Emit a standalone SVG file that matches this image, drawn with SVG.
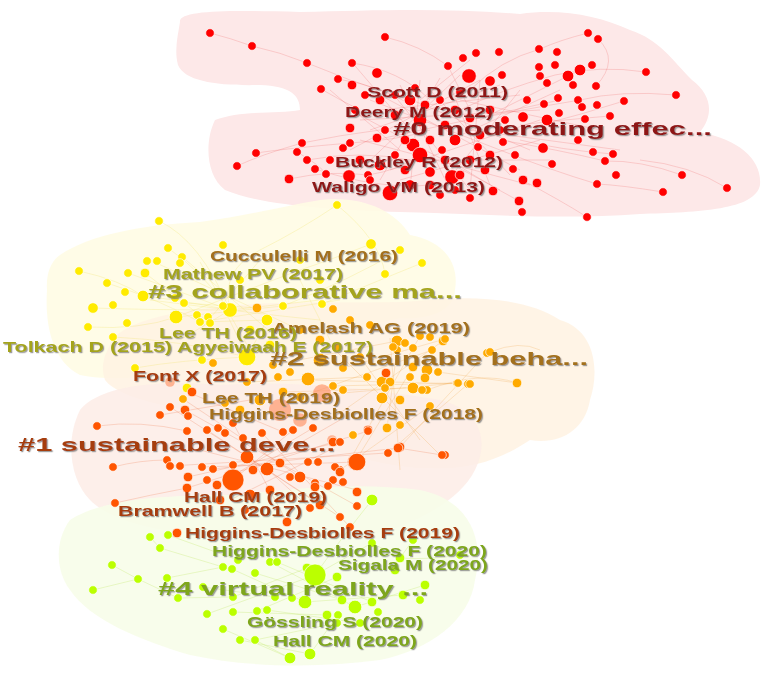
<svg xmlns="http://www.w3.org/2000/svg" width="762" height="679" viewBox="0 0 762 679">
<defs>
<style>
.h0{fill:#fde8e8}.h3{fill:#fffce4;opacity:.9}.h2{fill:#fff2e2;opacity:.85}.h1{fill:#fdece6;opacity:.85}.h4{fill:#f7fde9;opacity:.9}
.e0{fill:none;stroke:#f07070;stroke-width:.6;stroke-opacity:.45}
.e3{fill:none;stroke:#f0e060;stroke-width:.6;stroke-opacity:.45}
.e2{fill:none;stroke:#f0a040;stroke-width:.6;stroke-opacity:.4}
.e1{fill:none;stroke:#f07040;stroke-width:.6;stroke-opacity:.4}
.e4{fill:none;stroke:#c0e860;stroke-width:.6;stroke-opacity:.5}
.n0 circle{fill:#ff0000;stroke:#fff;stroke-width:.7}
.n3 circle{fill:#ffeb00;stroke:#fff;stroke-width:.7}
.n2 circle{fill:#ffaa00;stroke:#fff;stroke-width:.7}
.ns circle{fill:#ff8a5a;opacity:.6}
.n1 circle{fill:#ff5500;stroke:#fff;stroke-width:.7}
.n4 circle{fill:#bbff00;stroke:#fff;stroke-width:.7}
text{font-family:"Liberation Sans",Arial,sans-serif;font-weight:bold;font-size:14px;filter:url(#sh)}
.big{font-size:19px}
.t0{fill:#8e1515}.t3{fill:#a4a41a}.t2{fill:#a3701a}.t1{fill:#a63c0c}.t4{fill:#7ea61a}
</style>
<filter id="sh" x="-10%" y="-30%" width="120%" height="160%">
<feDropShadow dx="1.2" dy="1.2" stdDeviation="0.7" flood-color="#777" flood-opacity="0.7"/>
</filter>
</defs>
<rect width="762" height="679" fill="#fff"/>
<g id="hulls">
<path class="h0" d="M180,22 C178,10 230,10 300,12 C380,10 450,8 520,14 C560,8 600,16 630,30 C660,40 672,60 692,80 C712,95 714,115 700,132 C740,140 762,160 760,185 C755,210 700,212 640,214 C560,220 480,214 400,212 C330,210 260,205 225,190 C205,175 205,140 215,120 C240,110 280,114 300,110 C300,95 290,86 260,85 C220,86 185,82 178,65 C174,50 178,35 180,22 Z"/>
<path class="h3" d="M60,255 C90,235 140,225 200,222 C250,215 290,205 320,200 C360,195 395,210 410,235 C440,240 460,260 455,290 C455,310 430,320 400,318 C350,330 300,340 250,350 C200,370 130,385 80,375 C50,360 45,320 47,290 C46,275 50,262 60,255 Z"/>
<path class="h2" d="M110,345 C120,320 180,310 240,305 C300,300 380,305 430,300 C480,295 530,300 560,320 C595,330 600,370 590,400 C585,430 560,445 530,440 C500,460 470,470 430,468 C380,470 300,440 250,420 C180,410 120,400 105,380 C100,365 105,355 110,345 Z"/>
<path class="h1" d="M80,410 C100,385 160,380 220,385 C300,380 380,390 440,400 C480,410 490,440 475,470 C460,500 420,520 390,530 C330,545 260,545 200,535 C150,530 110,520 90,500 C70,480 65,440 80,410 Z"/>
<path class="h4" d="M70,520 C100,500 160,495 230,495 C300,488 360,482 420,490 C470,500 485,540 475,580 C470,620 430,650 380,660 C320,668 250,668 190,655 C140,640 90,620 70,590 C55,570 55,540 70,520 Z"/>
</g>
<g id="connectors">
<path class="e0" d="M210,33 Q230,38 252,46 Q280,52 307,63 Q330,72 350,80 Q380,90 410,100 M385,37 Q420,45 448,66 Q460,90 470,110 M352,63 Q400,70 430,100 M588,33 Q560,40 540,49 Q500,60 470,90 M598,39 Q620,60 596,86 M646,72 Q600,65 555,75 Q500,90 460,110 M676,95 Q620,90 580,100 Q520,110 470,120 M682,175 Q640,160 605,161 Q560,150 500,140 M727,188 Q690,165 640,160 M663,192 Q620,185 597,184 Q550,170 500,150 M587,217 Q560,200 522,180 M519,201 Q480,180 450,160 M237,166 Q260,155 302,143 Q340,135 380,130 M256,153 Q290,148 350,143 Q400,140 430,130 M289,179 Q330,170 368,175 Q400,170 420,155 M297,152 Q320,165 326,174 M321,89 Q340,100 360,110 M338,79 Q380,85 420,110 M613,154 Q560,150 520,140 M624,101 Q580,115 540,125 M610,116 Q560,120 520,125 M370,100 L500,150 M380,95 L520,170 M390,90 L470,190 M360,120 L540,110 M375,140 L560,100 M400,85 L450,190 M420,80 L410,190 M440,78 L380,180 M460,75 L360,170 M480,80 L350,150 M500,85 L370,130 M520,95 L380,110 M540,120 L390,170 M530,150 L400,95 M510,175 L430,90 M490,185 L450,85 M470,190 L480,80 M440,190 L520,90 M400,180 L540,140 M380,160 L550,160 M360,140 L530,185 M350,110 L500,190 M460,100 L600,130 M470,130 L620,150 M480,120 L580,70 M450,140 L560,90 M420,100 L470,60 M410,130 L350,60 M400,150 L330,90 M307,160 Q360,150 410,160 M315,169 Q380,190 430,185"/>
<path class="e3" d="M337,205 Q300,230 260,250 Q220,270 230,310 M337,205 Q380,240 385,274 M159,221 Q200,240 230,310 M79,271 Q120,280 143,296 Q180,300 230,310 M93,308 Q150,310 230,310 Q270,315 320,320 M88,327 Q140,330 176,317 M168,248 Q200,270 230,310 M422,263 Q380,280 322,304 M400,250 Q350,280 283,306 M107,283 Q160,300 200,322 M113,337 Q180,340 247,357 M135,368 Q180,360 247,357 M150,260 L300,330 M180,255 L280,340 M200,262 L250,350 M230,310 L150,300 M230,310 L320,300 M230,310 L180,340 M176,317 L283,306 M200,322 L267,320 M260,260 L200,330 M300,270 L176,317 M340,300 L200,322 M128,273 L230,310 M145,273 L210,323 M184,303 L257,308 M223,306 L247,357 M267,320 L247,357 M300,280 L330,340 M371,244 Q330,260 300,270"/>
<path class="e2" d="M310,380 L470,384 M330,345 L440,455 M360,357 L420,440 M390,338 L400,470 M420,336 L350,460 M443,341 L330,420 M457,383 L320,395 M413,367 L355,462 M397,350 L387,428 M430,406 L340,470 M468,384 L388,453 M487,353 L400,447 M517,383 L438,372 M517,383 Q480,370 427,390 M283,392 L413,388 M273,365 L397,341 M247,382 L367,377 M300,397 L432,350 M333,386 L457,383 M343,368 L445,339 M490,352 Q520,340 540,350"/>
<path class="e1" d="M170,407 L340,517 M185,410 L357,506 M207,430 L320,505 M233,423 L287,522 M262,433 L350,527 M293,430 L233,480 M313,428 L217,485 M340,442 L188,477 M368,431 L187,488 M387,453 L170,466 M398,448 L213,469 M357,462 L202,467 M300,477 L183,399 M283,432 L190,393 M253,470 L340,420 M230,500 L330,450 M267,469 L310,508 M200,450 L357,490 M97,426 Q140,420 187,431 M113,467 Q140,460 167,460 M115,503 Q150,495 187,488 M442,455 L398,448 M160,415 L250,400"/>
<path class="e4" d="M150,537 L160,548 L223,567 M168,535 L238,560 M112,565 L138,579 L178,598 M93,590 L138,579 M372,500 Q340,540 315,575 M413,540 L400,558 L372,543 L315,575 M232,569 L305,602 M255,573 L342,600 M270,562 L355,607 M277,562 L372,602 M307,568 L233,597 M315,575 L207,614 M337,577 L257,611 M203,587 L275,597 M233,612 L327,615 M267,610 L360,623 M223,629 L290,658 M240,640 L310,654 M255,640 L337,623 M425,585 L355,607 M403,595 L305,602 M178,598 L233,597 M167,578 L223,567 M290,658 L255,640 M310,654 L338,615 M460,555 Q430,560 400,558"/>
</g>
<g id="cluster0" class="n0">
<circle cx="210" cy="33" r="4.3"/><circle cx="252" cy="46" r="4.3"/><circle cx="307" cy="63" r="4.3"/><circle cx="352" cy="63" r="4.3"/><circle cx="385" cy="37" r="4.3"/><circle cx="377" cy="73" r="5.3"/><circle cx="338" cy="79" r="4.3"/><circle cx="321" cy="89" r="4.3"/><circle cx="352" cy="85" r="4.8"/><circle cx="448" cy="66" r="4.3"/><circle cx="463" cy="58" r="4.3"/><circle cx="469" cy="76" r="7.3"/><circle cx="476" cy="53" r="4.3"/><circle cx="499" cy="52" r="4.3"/><circle cx="490" cy="81" r="5.3"/><circle cx="502" cy="75" r="4.3"/><circle cx="539" cy="49" r="4.3"/><circle cx="557" cy="52" r="4.3"/><circle cx="539" cy="67" r="4.3"/><circle cx="555" cy="65" r="4.3"/><circle cx="580" cy="70" r="5.8"/><circle cx="592" cy="65" r="4.3"/><circle cx="568" cy="76" r="5.8"/><circle cx="540" cy="76" r="4.3"/><circle cx="547" cy="83" r="4.3"/><circle cx="573" cy="85" r="4.3"/><circle cx="596" cy="86" r="4.3"/><circle cx="588" cy="33" r="4.3"/><circle cx="598" cy="39" r="4.3"/><circle cx="646" cy="72" r="4.3"/><circle cx="676" cy="95" r="4.3"/><circle cx="624" cy="101" r="4.3"/><circle cx="578" cy="100" r="4.3"/><circle cx="558" cy="98" r="4.3"/><circle cx="544" cy="104" r="4.3"/><circle cx="582" cy="107" r="4.3"/><circle cx="597" cy="105" r="4.3"/><circle cx="610" cy="116" r="4.3"/><circle cx="559" cy="113" r="4.3"/><circle cx="523" cy="117" r="5.3"/><circle cx="547" cy="120" r="5.8"/><circle cx="585" cy="119" r="4.3"/><circle cx="578" cy="140" r="4.3"/><circle cx="543" cy="148" r="5.3"/><circle cx="593" cy="152" r="4.3"/><circle cx="613" cy="154" r="4.3"/><circle cx="605" cy="161" r="4.3"/><circle cx="552" cy="164" r="4.3"/><circle cx="513" cy="169" r="4.3"/><circle cx="616" cy="175" r="4.3"/><circle cx="682" cy="175" r="4.3"/><circle cx="523" cy="180" r="4.8"/><circle cx="537" cy="183" r="4.8"/><circle cx="597" cy="184" r="4.3"/><circle cx="663" cy="192" r="4.3"/><circle cx="727" cy="188" r="4.3"/><circle cx="519" cy="201" r="4.8"/><circle cx="522" cy="212" r="4.3"/><circle cx="587" cy="217" r="4.3"/><circle cx="350" cy="128" r="4.8"/><circle cx="350" cy="143" r="4.3"/><circle cx="302" cy="143" r="4.3"/><circle cx="256" cy="153" r="4.3"/><circle cx="297" cy="152" r="4.3"/><circle cx="237" cy="166" r="4.3"/><circle cx="307" cy="160" r="4.3"/><circle cx="315" cy="169" r="4.3"/><circle cx="326" cy="174" r="4.3"/><circle cx="289" cy="179" r="4.8"/><circle cx="343" cy="148" r="4.3"/><circle cx="368" cy="175" r="4.3"/><circle cx="349" cy="176" r="6.3"/><circle cx="377" cy="138" r="4.8"/><circle cx="413" cy="145" r="6.8"/><circle cx="442" cy="150" r="4.3"/><circle cx="452" cy="177" r="7.3"/><circle cx="478" cy="147" r="4.3"/><circle cx="503" cy="142" r="4.3"/><circle cx="493" cy="191" r="4.8"/><circle cx="390" cy="193" r="7.8"/><circle cx="410" cy="185" r="5.3"/>
<circle cx="380" cy="100" r="4.8"/><circle cx="395" cy="95" r="4.3"/><circle cx="410" cy="100" r="5.8"/><circle cx="425" cy="105" r="4.8"/><circle cx="440" cy="100" r="4.3"/><circle cx="455" cy="110" r="4.8"/><circle cx="395" cy="115" r="4.8"/><circle cx="420" cy="120" r="6.8"/><circle cx="445" cy="125" r="4.8"/><circle cx="470" cy="118" r="4.8"/><circle cx="490" cy="110" r="4.8"/><circle cx="505" cy="120" r="4.3"/><circle cx="385" cy="130" r="4.3"/><circle cx="405" cy="140" r="4.8"/><circle cx="430" cy="140" r="4.8"/><circle cx="455" cy="140" r="5.8"/><circle cx="480" cy="135" r="4.8"/><circle cx="500" cy="130" r="4.3"/><circle cx="395" cy="155" r="4.3"/><circle cx="420" cy="155" r="7.8"/><circle cx="445" cy="160" r="4.8"/><circle cx="470" cy="160" r="4.8"/><circle cx="490" cy="155" r="4.8"/><circle cx="380" cy="165" r="5.8"/><circle cx="405" cy="170" r="4.8"/><circle cx="430" cy="172" r="5.3"/><circle cx="460" cy="175" r="4.8"/><circle cx="485" cy="170" r="4.8"/><circle cx="370" cy="180" r="4.3"/><circle cx="430" cy="185" r="4.8"/><circle cx="455" cy="190" r="4.3"/><circle cx="365" cy="95" r="4.3"/><circle cx="355" cy="110" r="4.3"/><circle cx="460" cy="92" r="4.3"/><circle cx="360" cy="160" r="4.8"/><circle cx="330" cy="160" r="4.3"/><circle cx="440" cy="195" r="4.3"/><circle cx="470" cy="198" r="4.3"/><circle cx="515" cy="155" r="4.3"/><circle cx="527" cy="100" r="4.3"/><circle cx="415" cy="88" r="4.3"/>
</g>
<g id="cluster3" class="n3">
<circle cx="337" cy="205" r="4.3"/><circle cx="159" cy="221" r="4.3"/><circle cx="168" cy="248" r="4.3"/><circle cx="223" cy="245" r="4.3"/><circle cx="371" cy="244" r="5.3"/><circle cx="400" cy="250" r="4.3"/><circle cx="422" cy="263" r="4.3"/><circle cx="385" cy="274" r="4.3"/><circle cx="147" cy="261" r="4.3"/><circle cx="157" cy="261" r="4.3"/><circle cx="182" cy="257" r="4.3"/><circle cx="180" cy="263" r="4.3"/><circle cx="79" cy="271" r="4.3"/><circle cx="128" cy="273" r="4.3"/><circle cx="145" cy="273" r="4.8"/><circle cx="107" cy="283" r="4.3"/><circle cx="125" cy="292" r="4.3"/><circle cx="143" cy="296" r="5.8"/><circle cx="93" cy="308" r="5.3"/><circle cx="113" cy="305" r="4.3"/><circle cx="175" cy="298" r="4.3"/><circle cx="184" cy="303" r="4.3"/><circle cx="230" cy="310" r="7.3"/><circle cx="176" cy="317" r="6.8"/><circle cx="197" cy="315" r="4.3"/><circle cx="208" cy="317" r="4.3"/><circle cx="200" cy="322" r="4.3"/><circle cx="210" cy="323" r="4.3"/><circle cx="267" cy="320" r="5.8"/><circle cx="283" cy="306" r="4.3"/><circle cx="322" cy="304" r="4.3"/><circle cx="223" cy="306" r="4.3"/><circle cx="88" cy="327" r="4.3"/><circle cx="127" cy="323" r="4.3"/><circle cx="113" cy="337" r="4.3"/><circle cx="247" cy="357" r="8.8"/><circle cx="135" cy="368" r="4.3"/><circle cx="202" cy="360" r="4.3"/><circle cx="187" cy="388" r="4.8"/><circle cx="240" cy="280" r="4.3"/><circle cx="300" cy="260" r="4.3"/><circle cx="320" cy="280" r="4.3"/><circle cx="250" cy="330" r="4.8"/><circle cx="270" cy="345" r="4.8"/>
</g>
<g id="cluster2" class="n2">
<circle cx="257" cy="308" r="4.8"/><circle cx="333" cy="309" r="4.3"/><circle cx="443" cy="341" r="4.8"/><circle cx="397" cy="341" r="5.8"/><circle cx="432" cy="350" r="4.3"/><circle cx="420" cy="336" r="4.3"/><circle cx="397" cy="350" r="4.3"/><circle cx="413" cy="367" r="4.8"/><circle cx="427" cy="370" r="5.8"/><circle cx="438" cy="372" r="4.3"/><circle cx="425" cy="378" r="4.8"/><circle cx="457" cy="383" r="4.3"/><circle cx="468" cy="384" r="4.3"/><circle cx="517" cy="383" r="4.8"/><circle cx="487" cy="353" r="4.3"/><circle cx="367" cy="377" r="4.3"/><circle cx="382" cy="382" r="5.8"/><circle cx="390" cy="382" r="4.8"/><circle cx="413" cy="388" r="5.8"/><circle cx="427" cy="390" r="4.3"/><circle cx="382" cy="398" r="5.8"/><circle cx="400" cy="400" r="4.8"/><circle cx="430" cy="406" r="4.3"/><circle cx="308" cy="379" r="6.8"/><circle cx="333" cy="386" r="4.3"/><circle cx="343" cy="390" r="4.3"/><circle cx="387" cy="428" r="4.8"/><circle cx="400" cy="425" r="4.3"/><circle cx="353" cy="435" r="4.3"/><circle cx="393" cy="347" r="4.3"/><circle cx="405" cy="343" r="4.3"/><circle cx="410" cy="377" r="4.3"/><circle cx="458" cy="383" r="4.3"/><circle cx="470" cy="384" r="4.3"/><circle cx="278" cy="377" r="4.3"/><circle cx="290" cy="372" r="4.3"/><circle cx="337" cy="347" r="4.3"/><circle cx="343" cy="368" r="4.3"/><circle cx="360" cy="357" r="4.3"/><circle cx="413" cy="348" r="4.3"/><circle cx="430" cy="337" r="4.3"/><circle cx="445" cy="339" r="4.3"/><circle cx="490" cy="352" r="4.3"/><circle cx="283" cy="392" r="4.8"/><circle cx="300" cy="397" r="4.8"/><circle cx="385" cy="388" r="4.3"/><circle cx="422" cy="390" r="4.3"/><circle cx="273" cy="365" r="4.3"/><circle cx="247" cy="382" r="4.3"/><circle cx="213" cy="363" r="4.3"/><circle cx="320" cy="360" r="6.8"/><circle cx="350" cy="320" r="4.3"/><circle cx="370" cy="325" r="4.3"/><circle cx="300" cy="330" r="4.3"/><circle cx="320" cy="340" r="4.8"/><circle cx="260" cy="400" r="5.8"/><circle cx="240" cy="410" r="4.8"/><circle cx="225" cy="403" r="4.3"/><circle cx="183" cy="399" r="4.3"/>
</g>
<g id="cluster2s" class="ns">
<circle cx="322" cy="393" r="8.8"/><circle cx="170" cy="382" r="4.8"/><circle cx="332" cy="440" r="4.8"/><circle cx="280" cy="410" r="11"/><circle cx="300" cy="420" r="6.8"/>
</g>
<g id="cluster1" class="n1">
<circle cx="386" cy="373" r="4.8"/><circle cx="368" cy="430" r="4.8"/><circle cx="400" cy="447" r="4.8"/><circle cx="388" cy="453" r="4.3"/><circle cx="445" cy="455" r="4.3"/><circle cx="355" cy="462" r="7.8"/><circle cx="340" cy="470" r="4.3"/><circle cx="333" cy="480" r="4.3"/><circle cx="315" cy="483" r="4.3"/><circle cx="357" cy="492" r="4.8"/><circle cx="192" cy="392" r="4.8"/><circle cx="97" cy="426" r="4.3"/><circle cx="160" cy="415" r="4.3"/><circle cx="170" cy="407" r="4.3"/><circle cx="185" cy="410" r="4.8"/><circle cx="188" cy="416" r="4.3"/><circle cx="187" cy="431" r="4.3"/><circle cx="207" cy="430" r="4.3"/><circle cx="218" cy="428" r="4.3"/><circle cx="225" cy="433" r="4.3"/><circle cx="233" cy="423" r="4.3"/><circle cx="243" cy="438" r="4.3"/><circle cx="262" cy="433" r="4.3"/><circle cx="283" cy="432" r="4.3"/><circle cx="293" cy="430" r="4.3"/><circle cx="313" cy="428" r="4.3"/><circle cx="333" cy="442" r="4.8"/><circle cx="340" cy="442" r="4.3"/><circle cx="368" cy="431" r="4.3"/><circle cx="398" cy="448" r="4.8"/><circle cx="442" cy="455" r="4.3"/><circle cx="167" cy="460" r="4.3"/><circle cx="170" cy="466" r="4.3"/><circle cx="180" cy="466" r="4.3"/><circle cx="113" cy="467" r="4.3"/><circle cx="188" cy="477" r="4.8"/><circle cx="202" cy="467" r="4.3"/><circle cx="213" cy="469" r="4.3"/><circle cx="233" cy="465" r="4.3"/><circle cx="247" cy="457" r="6.8"/><circle cx="253" cy="470" r="4.8"/><circle cx="267" cy="469" r="6.8"/><circle cx="280" cy="463" r="4.8"/><circle cx="290" cy="477" r="4.3"/><circle cx="300" cy="477" r="5.8"/><circle cx="308" cy="462" r="4.3"/><circle cx="318" cy="462" r="4.3"/><circle cx="335" cy="467" r="4.3"/><circle cx="357" cy="462" r="8.8"/><circle cx="340" cy="472" r="4.8"/><circle cx="233" cy="480" r="11"/><circle cx="217" cy="485" r="4.8"/><circle cx="207" cy="480" r="4.3"/><circle cx="187" cy="488" r="4.8"/><circle cx="315" cy="487" r="4.8"/><circle cx="328" cy="486" r="4.3"/><circle cx="343" cy="482" r="4.3"/><circle cx="357" cy="506" r="4.3"/><circle cx="320" cy="505" r="4.8"/><circle cx="310" cy="508" r="4.3"/><circle cx="115" cy="503" r="4.3"/><circle cx="340" cy="517" r="4.3"/><circle cx="287" cy="522" r="4.8"/><circle cx="350" cy="527" r="4.3"/><circle cx="250" cy="495" r="5.8"/><circle cx="270" cy="490" r="4.8"/><circle cx="220" cy="500" r="4.8"/><circle cx="177" cy="533" r="4.8"/><circle cx="245" cy="510" r="4.3"/>
</g>
<g id="cluster4" class="n4">
<circle cx="372" cy="500" r="5.8"/><circle cx="150" cy="537" r="4.3"/><circle cx="168" cy="535" r="4.3"/><circle cx="160" cy="548" r="4.3"/><circle cx="112" cy="565" r="4.3"/><circle cx="93" cy="590" r="4.3"/><circle cx="138" cy="579" r="4.3"/><circle cx="167" cy="578" r="4.3"/><circle cx="223" cy="567" r="4.3"/><circle cx="232" cy="569" r="4.3"/><circle cx="238" cy="560" r="4.3"/><circle cx="255" cy="573" r="4.3"/><circle cx="270" cy="562" r="4.3"/><circle cx="277" cy="562" r="4.3"/><circle cx="307" cy="568" r="4.8"/><circle cx="315" cy="575" r="11"/><circle cx="337" cy="577" r="4.8"/><circle cx="178" cy="598" r="4.3"/><circle cx="203" cy="587" r="4.3"/><circle cx="233" cy="597" r="4.3"/><circle cx="275" cy="597" r="4.3"/><circle cx="292" cy="598" r="4.3"/><circle cx="305" cy="602" r="6.8"/><circle cx="342" cy="600" r="4.8"/><circle cx="355" cy="607" r="6.8"/><circle cx="372" cy="602" r="4.8"/><circle cx="378" cy="612" r="4.3"/><circle cx="425" cy="585" r="4.8"/><circle cx="403" cy="595" r="4.8"/><circle cx="400" cy="558" r="4.8"/><circle cx="413" cy="540" r="4.3"/><circle cx="372" cy="543" r="4.3"/><circle cx="207" cy="614" r="4.3"/><circle cx="233" cy="612" r="4.3"/><circle cx="257" cy="611" r="4.3"/><circle cx="267" cy="610" r="4.3"/><circle cx="327" cy="615" r="4.8"/><circle cx="338" cy="615" r="4.3"/><circle cx="223" cy="629" r="4.3"/><circle cx="240" cy="640" r="4.3"/><circle cx="255" cy="640" r="4.3"/><circle cx="290" cy="658" r="5.8"/><circle cx="310" cy="654" r="5.8"/><circle cx="360" cy="623" r="4.3"/><circle cx="337" cy="623" r="4.3"/><circle cx="395" cy="570" r="4.8"/><circle cx="420" cy="600" r="4.3"/><circle cx="460" cy="555" r="4.3"/>
</g>
<g id="labels">
<text class="t0" x="367" y="97" textLength="141" lengthAdjust="spacingAndGlyphs">Scott D (2011)</text>
<text class="t0" x="345" y="116.5" textLength="148" lengthAdjust="spacingAndGlyphs">Deery M (2012)</text>
<text class="t0 big" x="393" y="135" textLength="319" lengthAdjust="spacingAndGlyphs">#0 moderating effec...</text>
<text class="t0" x="335" y="167" textLength="168" lengthAdjust="spacingAndGlyphs">Buckley R (2012)</text>
<text class="t0" x="312" y="192" textLength="173" lengthAdjust="spacingAndGlyphs">Waligo VM (2013)</text>
<text class="t2" x="210" y="261" textLength="188" lengthAdjust="spacingAndGlyphs">Cucculelli M (2016)</text>
<text class="t3" x="163" y="279" textLength="180" lengthAdjust="spacingAndGlyphs">Mathew PV (2017)</text>
<text class="t3 big" x="148" y="298" textLength="314" lengthAdjust="spacingAndGlyphs">#3 collaborative ma...</text>
<text class="t2" x="272" y="333" textLength="198" lengthAdjust="spacingAndGlyphs">Amelash AG (2019)</text>
<text class="t3" x="159" y="338" textLength="138" lengthAdjust="spacingAndGlyphs">Lee TH (2016)</text>
<text class="t3" x="3" y="352" textLength="169" lengthAdjust="spacingAndGlyphs">Tolkach D (2015)</text>
<text class="t3" x="177" y="352" textLength="196" lengthAdjust="spacingAndGlyphs">Agyeiwaah E (2017)</text>
<text class="t2 big" x="270" y="365" textLength="318" lengthAdjust="spacingAndGlyphs">#2 sustainable beha...</text>
<text class="t1" x="133" y="381" textLength="134" lengthAdjust="spacingAndGlyphs">Font X (2017)</text>
<text class="t2" x="202" y="403" textLength="138" lengthAdjust="spacingAndGlyphs">Lee TH (2019)</text>
<text class="t2" x="209" y="419" textLength="274" lengthAdjust="spacingAndGlyphs">Higgins-Desbiolles F (2018)</text>
<text class="t1 big" x="18" y="451" textLength="317" lengthAdjust="spacingAndGlyphs">#1 sustainable deve...</text>
<text class="t1" x="184" y="502" textLength="143" lengthAdjust="spacingAndGlyphs">Hall CM (2019)</text>
<text class="t1" x="118" y="516" textLength="184" lengthAdjust="spacingAndGlyphs">Bramwell B (2017)</text>
<text class="t1" x="185" y="538" textLength="275" lengthAdjust="spacingAndGlyphs">Higgins-Desbiolles F (2019)</text>
<text class="t4" x="212" y="556" textLength="275" lengthAdjust="spacingAndGlyphs">Higgins-Desbiolles F (2020)</text>
<text class="t4" x="338" y="570" textLength="150" lengthAdjust="spacingAndGlyphs">Sigala M (2020)</text>
<text class="t4 big" x="158" y="595" textLength="270" lengthAdjust="spacingAndGlyphs">#4 virtual reality ...</text>
<text class="t4" x="247" y="627" textLength="176" lengthAdjust="spacingAndGlyphs">Gössling S (2020)</text>
<text class="t4" x="273" y="646" textLength="144" lengthAdjust="spacingAndGlyphs">Hall CM (2020)</text>
</g>
</svg>
